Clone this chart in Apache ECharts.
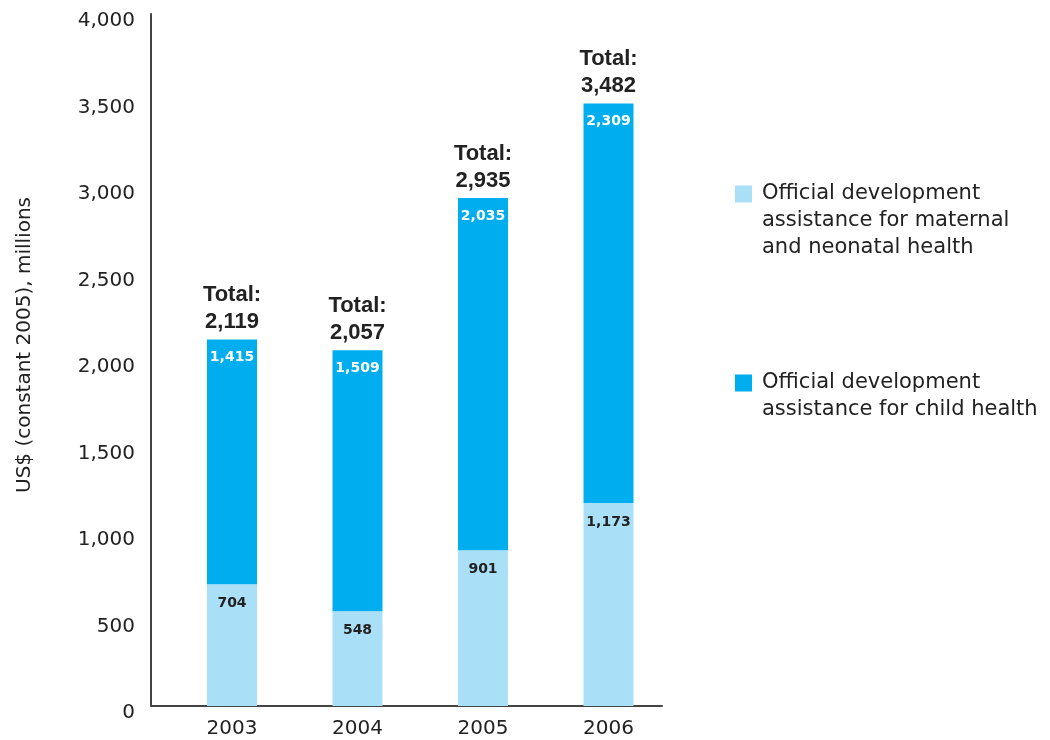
<!DOCTYPE html>
<html>
<head>
<meta charset="utf-8">
<script src="https://cdn.jsdelivr.net/npm/echarts@6/dist/echarts.min.js"></script>
<style>html,body{margin:0;padding:0;background:#fff}#c{width:1050px;height:740px}</style>
</head>
<body>
<div id="c"></div>
<script>
var years = [2003, 2004, 2005, 2006];
var maternal = [704, 548, 901, 1173];
var child = [1415, 1509, 2035, 2309];
var totals = [2119, 2057, 2935, 3482];
var yTicks = [0, 500, 1000, 1500, 2000, 2500, 3000, 3500, 4000];
var seriesNames = ['Official development assistance for maternal and neonatal health', 'Official development assistance for child health'];
var legendTexts = ['\n\nOfficial development\nassistance for maternal\nand neonatal health', '\nOfficial development\nassistance for child health'];
var yName = 'US$ (constant 2005), millions';

function fmt(v){ return v.toLocaleString('en-US'); }

var chart = echarts.init(document.getElementById('c'), null, {renderer: 'canvas'});
var FONT = 'DejaVu Sans';
var legendBase = {
  orient: 'vertical', left: 735, padding: 0, itemWidth: 17, itemHeight: 17, icon: 'rect',
  selectedMode: false,
  formatter: function(n){ return legendTexts[seriesNames.indexOf(n)]; },
  textStyle: {color: '#222', fontFamily: FONT, fontSize: 21, lineHeight: 27, padding: [0, 0, 0, 5]}
};
// data stored as [value, year] so the value dimension is the stacked one
function pairs(vals){ return years.map(function(y, i){ return [vals[i], y]; }); }
chart.setOption({
  animation: false,
  grid: {left: 151, right: 388, top: 14, bottom: 34},
  xAxis: {
    type: 'value', min: 2002.3546, max: 2006.4263,
    splitLine: {show: false},
    axisLine: {show: true, lineStyle: {color: '#444', width: 2}},
    axisTick: {show: false},
    axisLabel: {customValues: years, formatter: function(v){ return String(v); }, color: '#222', fontFamily: FONT, fontSize: 20, margin: 13}
  },
  yAxis: {
    type: 'value', min: 0, max: 4000, interval: 500,
    splitLine: {show: false},
    axisLine: {show: true, lineStyle: {color: '#444', width: 2}},
    axisTick: {show: false},
    axisLabel: {color: '#222', fontFamily: FONT, fontSize: 20, lineHeight: 14, verticalAlign: 'top', margin: 16, formatter: function(v){ return fmt(v); }}
  },
  legend: [
    Object.assign({}, legendBase, {top: 126.5, data: [seriesNames[0]]}),
    Object.assign({}, legendBase, {top: 342.5, data: [seriesNames[1]]})
  ],
  graphic: [{
    type: 'text', x: 25, y: 345, rotation: Math.PI / 2,
    style: {text: yName, fill: '#222', font: '20px "DejaVu Sans"', textAlign: 'center', textVerticalAlign: 'middle'}
  }],
  series: [
    {
      name: seriesNames[0], type: 'bar', stack: 'total', barWidth: 50,
      encode: {x: 1, y: 0},
      itemStyle: {color: '#aadff8'},
      data: pairs(maternal),
      label: {show: true, position: 'insideTop', distance: 12, color: '#222', fontFamily: FONT, fontWeight: 'bold', fontSize: 14,
        formatter: function(p){ return fmt(maternal[p.dataIndex]); }}
    },
    {
      name: seriesNames[1], type: 'bar', stack: 'total', barWidth: 50,
      encode: {x: 1, y: 0},
      itemStyle: {color: '#00aeef'},
      data: pairs(child),
      label: {show: true, position: 'insideTop', distance: 11, color: '#fff', fontFamily: FONT, fontWeight: 'bold', fontSize: 14,
        formatter: function(p){ return fmt(child[p.dataIndex]); }}
    },
    {
      name: 'totals', type: 'bar', stack: 'total', barWidth: 50, silent: true,
      encode: {x: 1, y: 0},
      itemStyle: {color: 'transparent'},
      data: pairs([0, 0, 0, 0]),
      label: {show: true, position: 'top', distance: 4, color: '#222', fontFamily: 'Liberation Sans', fontWeight: 'bold', fontSize: 22, lineHeight: 27,
        formatter: function(p){ return 'Total:\n' + fmt(totals[p.dataIndex]); }}
    }
  ]
});
</script>
</body>
</html>
